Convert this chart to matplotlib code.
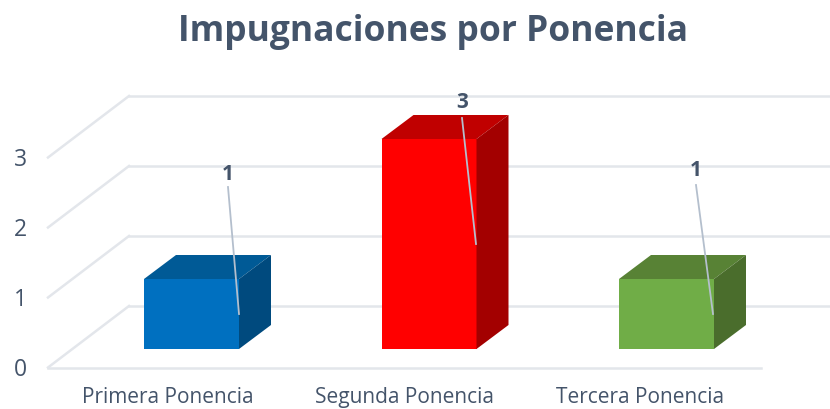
import matplotlib
matplotlib.use("Agg")
import matplotlib.pyplot as plt
from matplotlib.patches import Polygon

categorias = ["Primera Ponencia", "Segunda Ponencia", "Tercera Ponencia"]
valores = [1, 3, 1]
niveles = [0, 1, 2, 3]

colores = ["#0070C0", "#FF0000", "#70AD47"]
colores_techo = ["#005A96", "#C00000", "#588235"]
colores_lado = ["#004A7E", "#A30000", "#4A6D2C"]

TEXTO = "#44546A"
REJILLA = "#E3E6EB"
GUIA = "#B4BFCD"

plt.rcParams['font.family'] = ['Open Sans', 'DejaVu Sans']

W, H = 830, 409
fig = plt.figure(figsize=(W / 100, H / 100), dpi=100)
ax = fig.add_axes([0, 0, 1, 1])
ax.axis("off")

# escala: 237.5 px por categoria, 70 px por unidad
PX_X = 237.5
PX_Y = 70.0
ax.set_xlim((0 - 191.5) / PX_X, (W - 191.5) / PX_X)
ax.set_ylim((349 - H) / PX_Y, 349 / PX_Y)


def dx(px):
    return px / PX_X


def dy(px):
    return px / PX_Y


# paredes y suelo (3D falso)
x_frente = dx(48 - 191.5)
x_fondo = dx(129 - 191.5)
x_fin = dx(W - 191.5)
y_frente = dy(-18.5)
y_fondo = dy(43)

for n in niveles:
    ax.plot([x_frente, x_fondo], [n + y_frente, n + y_fondo], color=REJILLA, lw=1.8, zorder=1)
    ax.plot([x_fondo, x_fin], [n + y_fondo, n + y_fondo], color=REJILLA, lw=1.8, zorder=1)
    ax.text(dx(20 - 191.5), n + y_frente - dy(3), str(n), color=TEXTO, fontsize=16.5,
            ha="center", va="center", zorder=5)
ax.plot([x_frente, dx(761 - 191.5)], [y_frente, y_frente], color=REJILLA, lw=1.8, zorder=1)

# barras
ancho = dx(95)
prof_x = dx(32)
prof_y = dy(24)
for i, v in enumerate(valores):
    izq = i - ancho / 2
    der = i + ancho / 2
    ax.bar(i, v, width=ancho, color=colores[i], edgecolor="none", zorder=2)
    ax.add_patch(Polygon([(izq, v), (der, v), (der + prof_x, v + prof_y), (izq + prof_x, v + prof_y)],
                         closed=True, facecolor=colores_techo[i], edgecolor="none", zorder=2))
    ax.add_patch(Polygon([(der, 0), (der + prof_x, prof_y), (der + prof_x, v + prof_y), (der, v)],
                         closed=True, facecolor=colores_lado[i], edgecolor="none", zorder=2))

# etiquetas con linea guia, desplazadas a mano como en el original
etiqueta_x = [228, 462, 696]
etiqueta_y = [174, 102, 170]
guia_ini_y = [187, 118, 185]
guia_fin_x = [239, 476, 713]
guia_fin_y = [314, 244, 314]
for i, v in enumerate(valores):
    ex = dx(etiqueta_x[i] - 191.5)
    ax.text(ex, dy(349 - etiqueta_y[i]), str(v), color=TEXTO, fontsize=15, fontweight="bold",
            ha="center", va="center", zorder=5)
    ax.plot([ex, dx(guia_fin_x[i] - 191.5)], [dy(349 - guia_ini_y[i]), dy(349 - guia_fin_y[i])],
            color=GUIA, lw=1.3, zorder=4)

# los rotulos van corridos a la izquierda de cada barra, como en el original
rotulo_x = [167.5, 404, 640]
for i, c in enumerate(categorias):
    ax.text(dx(rotulo_x[i] - 191.5), dy(349 - 397.5), c, color=TEXTO, fontsize=15, ha="center", va="center", zorder=5)

ax.text(dx(433 - 191.5), dy(349 - 32.5), "Impugnaciones por Ponencia", color=TEXTO, fontsize=25.5,
        fontweight="bold", ha="center", va="center", zorder=5)

fig.savefig("out.png", dpi=100)
